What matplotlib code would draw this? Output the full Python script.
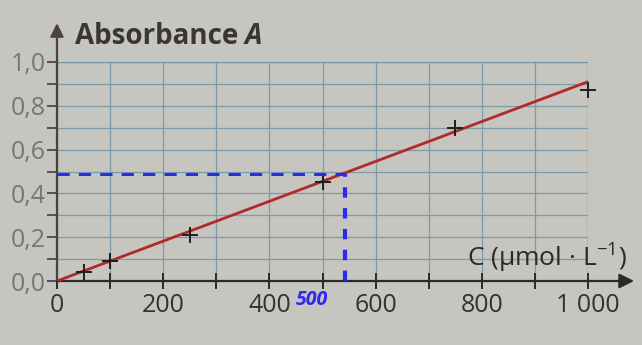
import matplotlib
matplotlib.use("Agg")
import matplotlib.pyplot as plt
import numpy as np

# data
conc = [50, 100, 250, 500, 750, 1000]          # µmol/L
absorb = [0.04, 0.09, 0.21, 0.45, 0.70, 0.87]
fit_x = [0, 1000]
fit_y = [0.0, 0.91]
read_a = 0.49
read_c = 542
x_major = [0, 200, 400, 600, 800, 1000]
x_labels = ["0", "200", "400", "600", "800", "1 000"]
y_major = [0.0, 0.2, 0.4, 0.6, 0.8, 1.0]
y_labels = ["0,0", "0,2", "0,4", "0,6", "0,8", "1,0"]

plt.rcParams["font.family"] = ["Open Sans", "DejaVu Sans"]
plt.rcParams["mathtext.fontset"] = "custom"
plt.rcParams["mathtext.rm"] = "Open Sans"

bg = "#c6c5c0"
fig = plt.figure(figsize=(6.42, 3.45), dpi=100, facecolor=bg)
ax = fig.add_axes([57/642, 64/345, 531/642, 219/345])
ax.set_facecolor(bg)
ax.set_xlim(0, 1000)
ax.set_ylim(0, 1.0)

grid_c = "#6e97a6"
ax.set_xticks(np.arange(0, 1001, 100), minor=True)
ax.set_yticks(np.arange(0, 1.01, 0.1), minor=True)
ax.grid(True, which="both", color=grid_c, lw=0.9, alpha=0.85)
ax.set_axisbelow(True)

for s in ["top", "right"]:
    ax.spines[s].set_visible(False)
ax.spines["bottom"].set_color("#2a2a2a")
ax.spines["left"].set_color("#4a4242")
ax.spines["bottom"].set_linewidth(1.6)
ax.spines["left"].set_linewidth(1.6)

ax.axvline(1000, color=grid_c, lw=0.9, alpha=0.85)
ax.axhline(1.0, color=grid_c, lw=0.9, alpha=0.85)

ax.set_xticks(x_major)
ax.set_xticklabels(x_labels)
ax.set_yticks(y_major)
ax.set_yticklabels(y_labels)
ax.tick_params(axis="x", which="both", direction="inout", length=11, width=1.4,
               color="#2a2a2a", labelsize=18, labelcolor="#333333", pad=3)
ax.tick_params(axis="y", which="both", direction="out", length=7, width=1.4,
               color="#555050", labelsize=18, labelcolor="#7a7670", pad=1)

# arrows
ax.annotate("", xy=(1092, 0), xytext=(990, 0), xycoords="data",
            arrowprops=dict(arrowstyle="-|>", color="#2a2a2a", lw=1.6,
                            mutation_scale=22), annotation_clip=False)
ax.annotate("", xy=(0, 1.19), xytext=(0, 0.98), xycoords="data",
            arrowprops=dict(arrowstyle="-|>", color="#4a4242", lw=1.6,
                            mutation_scale=20), annotation_clip=False)

# fit line
ax.plot(fit_x, fit_y, color="#b02a2a", lw=2.0, zorder=3)
# points
ax.plot(conc, absorb, linestyle="none", marker="+", ms=11, mew=1.4,
        color="#1e1e1e", zorder=4, clip_on=False)

# blue reading lines
ax.plot([0, read_c], [read_a, read_a], color="#2b2bef", lw=2.2,
        ls=(0, (4, 3)), zorder=5)
ax.plot([read_c, read_c], [0, read_a], color="#2b2bef", lw=3.0,
        ls=(0, (2.5, 2.5)), zorder=5, clip_on=False)

# labels
t1 = fig.text(75/642, 1 - 36/345, "Absorbance", fontsize=20, fontweight="bold",
              color="#3a3636", va="center", ha="left")
fig.canvas.draw()
bb = t1.get_window_extent(renderer=fig.canvas.get_renderer())
fig.text((bb.x1 + 6) / 642, 1 - 36/345, "A", fontsize=20, fontweight="bold",
         fontstyle="italic", color="#3a3636", va="center", ha="left")
fig.text(467/642, 1 - 257/345, "C (µmol · L$^{-1}$)", fontsize=19,
         color="#2a2a2a", va="center", ha="left")
ax.text(480, -0.085, "500", fontsize=14, color="#2b2bef", fontstyle="italic",
        fontweight="bold", ha="center", va="center", clip_on=False)

fig.savefig("out.png", dpi=100, facecolor=bg)
